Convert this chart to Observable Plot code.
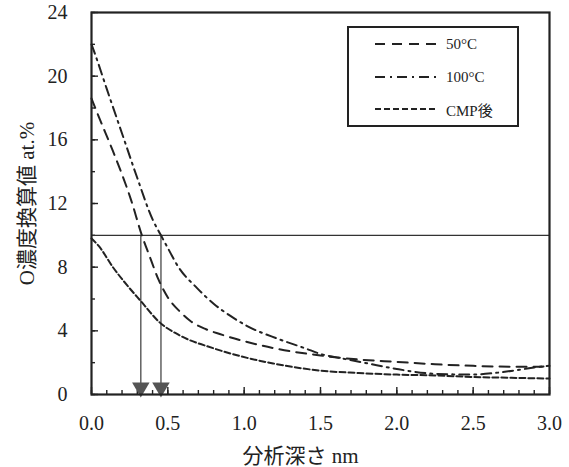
<!DOCTYPE html>
<html>
<head>
<meta charset="utf-8">
<script src="https://cdn.jsdelivr.net/npm/d3@7"></script>
<script src="https://cdn.jsdelivr.net/npm/@observablehq/plot@0.6"></script>
<style>
  html, body { margin: 0; padding: 0; background: #fff; }
  #wrap { position: relative; width: 569px; height: 467px; font-family: "Liberation Serif", "Noto Sans CJK JP", serif; }
  #legend { position: absolute; left: 347px; top: 26px; width: 168px; height: 97px; border: 2px solid #222; background: #fff; }
  #legend .row { position: absolute; left: 26px; height: 20px; display: flex; align-items: center; font-size: 15px; color: #222; }
  #legend svg { margin-right: 9px; }
</style>
</head>
<body>
<div id="wrap"></div>
<script>
// ---- data ----
const seriesNames = ["50°C", "100°C", "CMP後"];

const depth50 = [0, 0.05, 0.14, 0.26, 0.33, 0.38, 0.44, 0.5, 0.58, 0.65, 0.75, 0.84, 1.0, 1.2, 1.5, 1.75, 2.0, 2.25, 2.5, 2.75, 2.95, 3.0];
const conc50  = [18.6, 17.4, 15.3, 12.2, 10.0, 8.7, 7.2, 6.1, 5.2, 4.6, 4.1, 3.8, 3.35, 2.9, 2.45, 2.2, 2.05, 1.9, 1.8, 1.75, 1.75, 1.85];

const depth100 = [0, 0.03, 0.1, 0.2, 0.3, 0.4, 0.455, 0.5, 0.57, 0.69, 0.8, 0.9, 1.02, 1.22, 1.4, 1.5, 1.65, 1.81, 2.0, 2.25, 2.5, 2.64, 2.8, 2.9, 3.0];
const conc100  = [22.0, 21.2, 19.2, 16.4, 13.6, 11.0, 10.0, 9.2, 8.0, 6.7, 5.7, 5.0, 4.3, 3.5, 2.9, 2.55, 2.25, 1.95, 1.6, 1.3, 1.25, 1.35, 1.55, 1.7, 1.8];

const depthCMP = [0, 0.05, 0.14, 0.23, 0.32, 0.45, 0.58, 0.8, 1.02, 1.19, 1.5, 1.75, 2.0, 2.25, 2.5, 2.75, 3.0];
const concCMP  = [9.8, 9.3, 8.0, 6.9, 5.9, 4.5, 3.7, 2.9, 2.3, 1.95, 1.5, 1.35, 1.25, 1.2, 1.1, 1.05, 1.0];

const thresholdLevel = [10];
const arrowDepths = [0.323, 0.455];

const yTickLabels = [0, 4, 8, 12, 16, 20, 24];
const yMinorTicks = d3.range(0, 25, 2);
const xTickLabels = [0, 0.5, 1.0, 1.5, 2.0, 2.5, 3.0];
const xMinorTicks = d3.range(0, 31).map(i => i / 10);

const yTitle = "O濃度換算値 at.%";
const xTitle = "分析深さ nm";

// ---- styles / layout ----
const dashes = ["10,7", "10,5,2,5", "6,3"];
const ink = "#222";
const minorLen = 4, majorLen = 7; // tick lengths in pixels

const toRows = (xs, ys, s) => xs.map((x, i) => ({x, y: ys[i], s}));
const series = [
  toRows(depth50, conc50, seriesNames[0]),
  toRows(depth100, conc100, seriesNames[1]),
  toRows(depthCMP, concCMP, seriesNames[2])
];

const chart = Plot.plot({
  width: 569, height: 467, marginLeft: 91, marginRight: 20, marginTop: 12, marginBottom: 73,
  style: {fontFamily: '"Liberation Serif", "Noto Sans CJK JP", serif', color: ink, background: "#fff"},
  x: {domain: [0, 3]},
  y: {domain: [0, 24]},
  marks: [
    Plot.axisY({ticks: yTickLabels, tickSize: 0, tickPadding: 24, fontSize: 20, tickFormat: d => String(d),
      label: yTitle, labelAnchor: "center", labelArrow: "none", labelOffset: 72}),
    Plot.axisX({ticks: xTickLabels, tickSize: 0, tickPadding: 21, fontSize: 20, tickFormat: d3.format(".1f"),
      label: null}),
    Plot.text([xTitle], {frameAnchor: "bottom", dy: 68, dx: -20, fontSize: 21, lineAnchor: "bottom", fill: ink}),
    // inward ticks: outward axis ticks shifted into the frame by their own length
    Plot.axisX({ticks: xMinorTicks, tickSize: minorLen, dy: -minorLen, tickFormat: null, text: null, label: null, stroke: ink, strokeWidth: 1.4}),
    Plot.axisX({ticks: xTickLabels, tickSize: majorLen, dy: -majorLen, tickFormat: null, text: null, label: null, stroke: ink, strokeWidth: 1.4}),
    Plot.axisY({ticks: yMinorTicks, tickSize: minorLen, dx: minorLen, tickFormat: null, text: null, label: null, stroke: ink, strokeWidth: 1.4}),
    Plot.axisY({ticks: yTickLabels, tickSize: majorLen, dx: majorLen, tickFormat: null, text: null, label: null, stroke: ink, strokeWidth: 1.4}),
    Plot.ruleX(arrowDepths, {x: d => d, y1: thresholdLevel[0], y2: 0, stroke: "#555", strokeWidth: 1.4}),
    Plot.ruleY(thresholdLevel, {stroke: "#333", strokeWidth: 1.2}),
    Plot.line(series[0], {x: "x", y: "y", stroke: ink, strokeWidth: 2, strokeDasharray: dashes[0], curve: "monotone-x"}),
    Plot.line(series[1], {x: "x", y: "y", stroke: ink, strokeWidth: 2, strokeDasharray: dashes[1], curve: "monotone-x"}),
    Plot.line(series[2], {x: "x", y: "y", stroke: ink, strokeWidth: 2, strokeDasharray: dashes[2], curve: "monotone-x"}),
    Plot.dot(arrowDepths, {x: d => d, y: 0, symbol: "triangle", rotate: 180, r: 6.5, fill: "#555", stroke: "none", dy: -7}),
    Plot.frame({stroke: ink, strokeWidth: 2.2})
  ]
});

const wrap = document.getElementById("wrap");
wrap.appendChild(chart);
chart.querySelectorAll("g[aria-label='y-axis label'] text").forEach(t => t.style.fontSize = "21px");

// legend overlay
const legend = document.createElement("div");
legend.id = "legend";
const rowTops = [6, 39, 71];
seriesNames.forEach((name, i) => {
  const row = document.createElement("div");
  row.className = "row";
  row.style.top = rowTops[i] + "px";
  row.innerHTML = `<svg width="62" height="6"><line x1="0" x2="62" y1="3" y2="3" stroke="${ink}" stroke-width="2" stroke-dasharray="${dashes[i]}"/></svg><span>${name}</span>`;
  legend.appendChild(row);
});
wrap.appendChild(legend);
</script>
</body>
</html>
